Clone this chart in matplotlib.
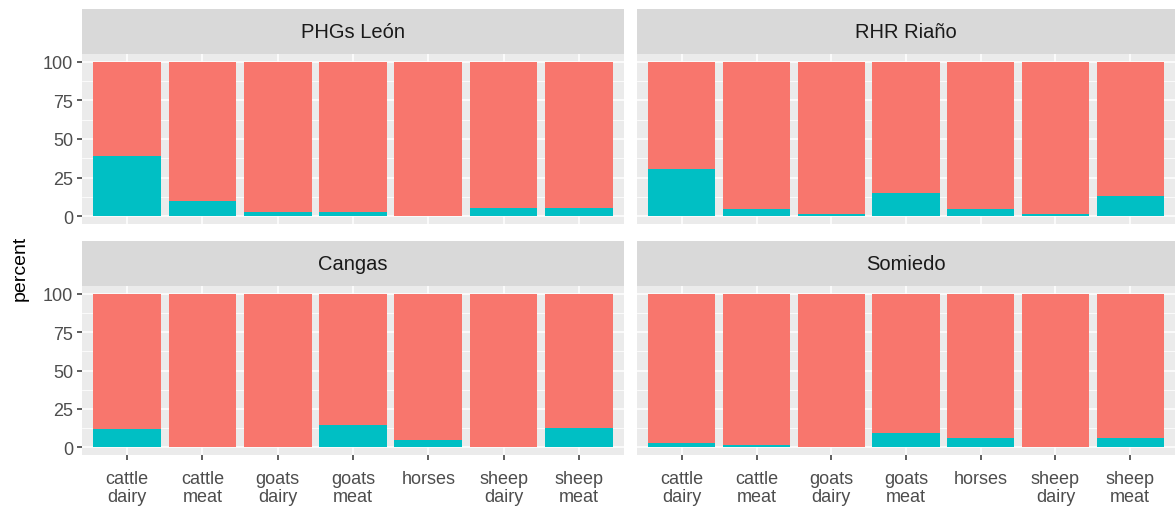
import matplotlib
matplotlib.use("Agg")
import matplotlib.pyplot as plt
import numpy as np

plt.rcParams['font.family'] = ['Liberation Sans', 'DejaVu Sans']

# datos
categories = ["cattle\ndairy", "cattle\nmeat", "goats\ndairy", "goats\nmeat",
              "horses", "sheep\ndairy", "sheep\nmeat"]
panels = ["PHGs León", "RHR Riaño", "Cangas", "Somiedo"]
teal_leon = [39, 10, 2.5, 2.5, 0, 5.2, 5.2]
teal_riano = [30.5, 4.5, 1.5, 15, 4.5, 1.5, 13]
teal_cangas = [12, 0, 0, 14.5, 5, 0, 12.8]
teal_somiedo = [3, 1.5, 0, 9.3, 6, 0, 6]
teal_values = [teal_leon, teal_riano, teal_cangas, teal_somiedo]

RED = "#F8766D"
TEAL = "#00BFC4"
W, H = 1176, 510

fig = plt.figure(figsize=(W / 100, H / 100), dpi=100)

# posiciones de los paneles en pixeles (x0, x1, y_top, y_bottom)
boxes = [(82, 624, 55, 225), (637, 1175, 55, 225),
         (82, 624, 287, 456), (637, 1175, 287, 456)]
strip_h = 45

x = np.arange(1, len(categories) + 1)
for i, (name, teal) in enumerate(zip(panels, teal_values)):
    x0, x1, yt, yb = boxes[i]
    ax = fig.add_axes([x0 / W, 1 - yb / H, (x1 - x0) / W, (yb - yt) / H])
    ax.set_facecolor("#EBEBEB")
    teal = np.array(teal)
    red = 100 - teal
    ax.bar(x, teal, width=0.9, color=TEAL, zorder=3)
    ax.bar(x, red, width=0.9, bottom=teal, color=RED, zorder=3)
    ax.set_xlim(0.4, 7.6)
    ax.set_ylim(-5, 105)
    ax.set_yticks([0, 25, 50, 75, 100])
    ax.set_yticks([12.5, 37.5, 62.5, 87.5], minor=True)
    ax.set_xticks(x)
    ax.grid(which="major", color="white", linewidth=1.1, zorder=1)
    ax.grid(which="minor", axis="y", color="white", linewidth=0.55, zorder=1)
    for s in ax.spines.values():
        s.set_visible(False)
    ax.tick_params(which="major", length=3.5, width=1.1, color="#333333",
                   labelcolor="#4D4D4D", labelsize=13, pad=3)
    ax.tick_params(which="minor", length=0)
    if i % 2 == 0:
        ax.set_yticklabels(["0", "25", "50", "75", "100"])
    else:
        ax.set_yticklabels([])
        ax.tick_params(axis="y", length=0)
    if i >= 2:
        ax.set_xticklabels(categories, linespacing=1.1)
        ax.tick_params(axis="x", pad=7)
    else:
        ax.set_xticklabels([])
        ax.tick_params(axis="x", length=0)

    # franja del titulo
    sax = fig.add_axes([x0 / W, 1 - yt / H, (x1 - x0) / W, strip_h / H])
    sax.set_facecolor("#D9D9D9")
    sax.set_xticks([])
    sax.set_yticks([])
    for s in sax.spines.values():
        s.set_visible(False)
    sax.text(0.5, 0.5, name, ha="center", va="center", fontsize=14.5,
             color="#1A1A1A", transform=sax.transAxes)

fig.text(20 / W, 1 - 268 / H, "percent", rotation=90, ha="center",
         va="center", fontsize=14, color="black")

fig.savefig("out.png", dpi=100)
